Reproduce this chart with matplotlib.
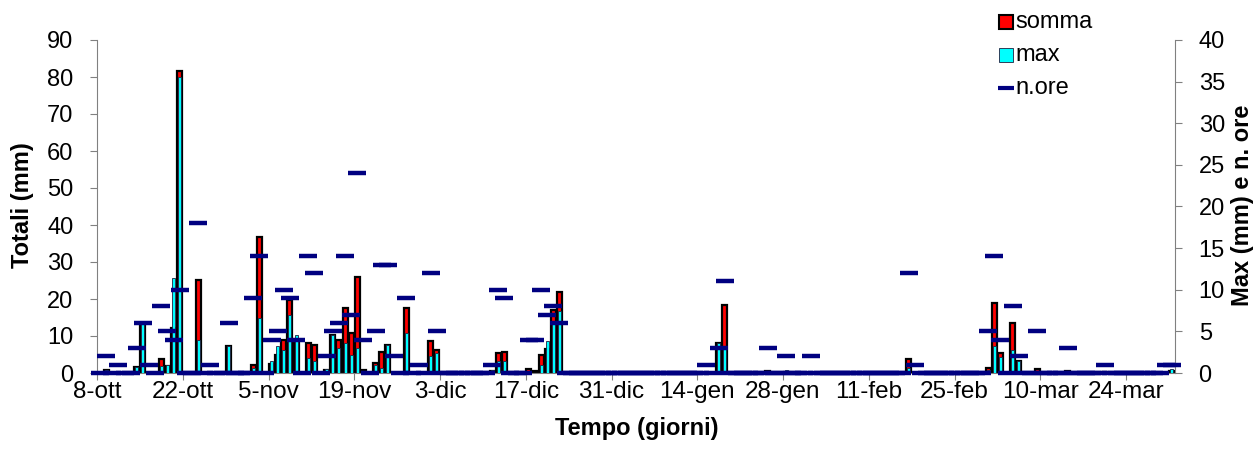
import matplotlib
matplotlib.use('Agg')
import matplotlib.pyplot as plt
import numpy as np
from matplotlib.lines import Line2D

plt.rcParams['font.family'] = ['Liberation Sans', 'DejaVu Sans']

# ---------------- data ----------------
n_days = 176  # daily values from 8-ott to 31-mar (leap year)
tick_days = [0, 14, 28, 42, 56, 70, 84, 98, 112, 126, 140, 154, 168]
tick_labels = ['8-ott', '22-ott', '5-nov', '19-nov', '3-dic', '17-dic', '31-dic',
               '14-gen', '28-gen', '11-feb', '25-feb', '10-mar', '24-mar']

# day index (0 = 8-ott) with rain total "somma" (mm, left axis)
somma_day = [1, 6, 7, 10, 11, 12, 13, 16, 21, 25, 26, 28, 29, 30, 31, 32, 34, 35,
             37, 38, 39, 40, 41, 42, 43, 45, 46, 47, 50, 54, 55, 64, 65, 66, 70,
             71, 72, 73, 74, 75, 101, 102, 109, 112, 132, 145, 146, 147, 149, 150,
             153, 158, 164, 175]
somma_val = [0.8, 1.5, 13.4, 3.7, 2.0, 12.2, 81.5, 25.1, 7.3, 2.2, 36.7, 2.3, 4.9,
             8.9, 19.7, 9.0, 8.2, 7.5, 0.8, 10.3, 8.9, 17.7, 10.9, 25.9, 0.8, 2.6,
             5.6, 7.6, 17.5, 8.6, 6.2, 0.5, 5.3, 5.8, 1.0, 0.6, 5.0, 6.5, 17.0,
             21.9, 8.0, 18.4, 0.6, 0.4, 3.8, 1.3, 19.0, 5.3, 13.4, 3.3, 1.0, 0.5,
             0.3, 0.5]

# day index with hourly maximum "max" (mm, right axis)
max_day = [1, 6, 7, 10, 11, 12, 13, 16, 21, 25, 26, 28, 29, 30, 31, 32, 34, 35, 37,
           38, 39, 40, 41, 42, 43, 45, 46, 47, 50, 54, 55, 64, 65, 66, 70, 72, 73,
           74, 75, 101, 102, 112, 132, 145, 146, 147, 149, 150, 164, 175]
max_val = [0.4, 0.7, 6.0, 0.8, 1.0, 11.4, 35.6, 4.0, 3.3, 0.6, 6.6, 1.4, 3.2, 2.8,
           7.0, 4.6, 1.8, 1.4, 0.5, 4.6, 3.0, 3.6, 2.2, 3.0, 0.3, 1.0, 0.6, 3.4,
           4.8, 2.0, 2.4, 0.4, 1.5, 1.4, 0.3, 1.0, 3.8, 6.2, 7.5, 3.6, 3.0, 0.4,
           0.6, 0.4, 3.2, 1.9, 2.8, 1.4, 0.3, 0.5]

# day index with number of rainy hours "n.ore" (right axis); other days = 0
nore_day = [1, 3, 6, 7, 8, 10, 11, 12, 13, 16, 18, 21, 25, 26, 28, 29, 30, 31, 32,
            34, 35, 37, 38, 39, 40, 41, 42, 43, 45, 46, 47, 48, 50, 52, 54, 55, 64,
            65, 66, 70, 71, 72, 73, 74, 75, 99, 101, 102, 109, 112, 116, 132, 133,
            145, 146, 147, 149, 150, 153, 158, 164, 174, 175]
nore_val = [2, 1, 3, 6, 1, 8, 5, 4, 10, 18, 1, 6, 9, 14, 4, 5, 10, 9, 4,
            14, 12, 2, 5, 6, 14, 7, 24, 4, 5, 13, 13, 2, 9, 1, 12, 5, 1,
            10, 9, 4, 4, 10, 7, 8, 6, 1, 3, 11, 3, 2, 2, 12, 1,
            5, 14, 4, 8, 2, 5, 3, 1, 1, 1]

# ---------------- build series ----------------
somma = np.zeros(n_days); somma[somma_day] = somma_val
maxv = np.zeros(n_days); maxv[max_day] = max_val
nore = np.zeros(n_days); nore[nore_day] = nore_val
x = np.arange(n_days) + 0.5

W, H = 1255, 468
fig = plt.figure(figsize=(W / 100, H / 100), dpi=100)
L, R, T, B = 97, 1175, 40, 373
ax1 = fig.add_axes([L / W, 1 - B / H, (R - L) / W, (B - T) / H])

ms = somma > 0
ax1.bar(x[ms], somma[ms], width=0.82, color='#FF0000', edgecolor='black',
        linewidth=1.6, zorder=2)
ax1.set_xlim(0, n_days)
ax1.set_ylim(0, 90)
ax1.set_yticks(np.arange(0, 91, 10))
ax1.set_xticks(tick_days)
ax1.set_xticklabels(tick_labels)

ax2 = ax1.twinx()
mm = maxv > 0
ax2.bar(x[mm], maxv[mm], width=0.5, color='#00FFFF', edgecolor='#202040',
        linewidth=0.6, zorder=2)
ax2.plot(x, nore, linestyle='none', marker='_', markersize=12.5,
         markeredgewidth=3.2, color='#000080', clip_on=False, zorder=3)
ax2.set_ylim(0, 40)
ax2.set_yticks(np.arange(0, 41, 5))
ax2.set_xlim(0, n_days)

gray = '#808080'
for a in (ax1, ax2):
    a.spines['top'].set_visible(False)
    for s in ('left', 'right', 'bottom'):
        a.spines[s].set_color(gray)
ax1.spines['right'].set_visible(False)
ax2.spines['left'].set_visible(False)
ax2.spines['bottom'].set_visible(False)

ax1.tick_params(axis='y', direction='out', length=5, color=gray, labelsize=17, pad=12)
ax1.tick_params(axis='x', direction='out', length=5, color=gray, labelsize=17.5, pad=1)
ax2.tick_params(axis='y', direction='out', length=5, color=gray, labelsize=17, pad=12)

# axis titles
fig.text(22 / W, 1 - 205 / H, 'Totali (mm)', rotation=90, fontsize=17,
         fontweight='bold', ha='center', va='center')
fig.text(1242 / W, 1 - 205 / H, 'Max (mm) e n. ore', rotation=90, fontsize=17,
         fontweight='bold', ha='center', va='center')
fig.text(637 / W, 1 - 428 / H, 'Tempo (giorni)', fontsize=17,
         fontweight='bold', ha='center', va='center')

# legend
leg_items = [('somma', dict(marker='s', markersize=9.5, markerfacecolor='#FF0000',
                            markeredgecolor='black', markeredgewidth=1.5)),
             ('max', dict(marker='s', markersize=9.5, markerfacecolor='#00FFFF',
                          markeredgecolor='#202040', markeredgewidth=0.6)),
             ('n.ore', dict(marker='_', markersize=11, markeredgewidth=3.0,
                            color='#000080'))]
for i, (lab, kw) in enumerate(leg_items):
    yy = 1 - (22 + 33 * i) / H
    fig.add_artist(Line2D([1006 / W], [yy], transform=fig.transFigure,
                          linestyle='none', **kw))
    fig.text(1015 / W, yy, lab, fontsize=17, ha='left', va='center')

fig.savefig('out.png', dpi=100)
